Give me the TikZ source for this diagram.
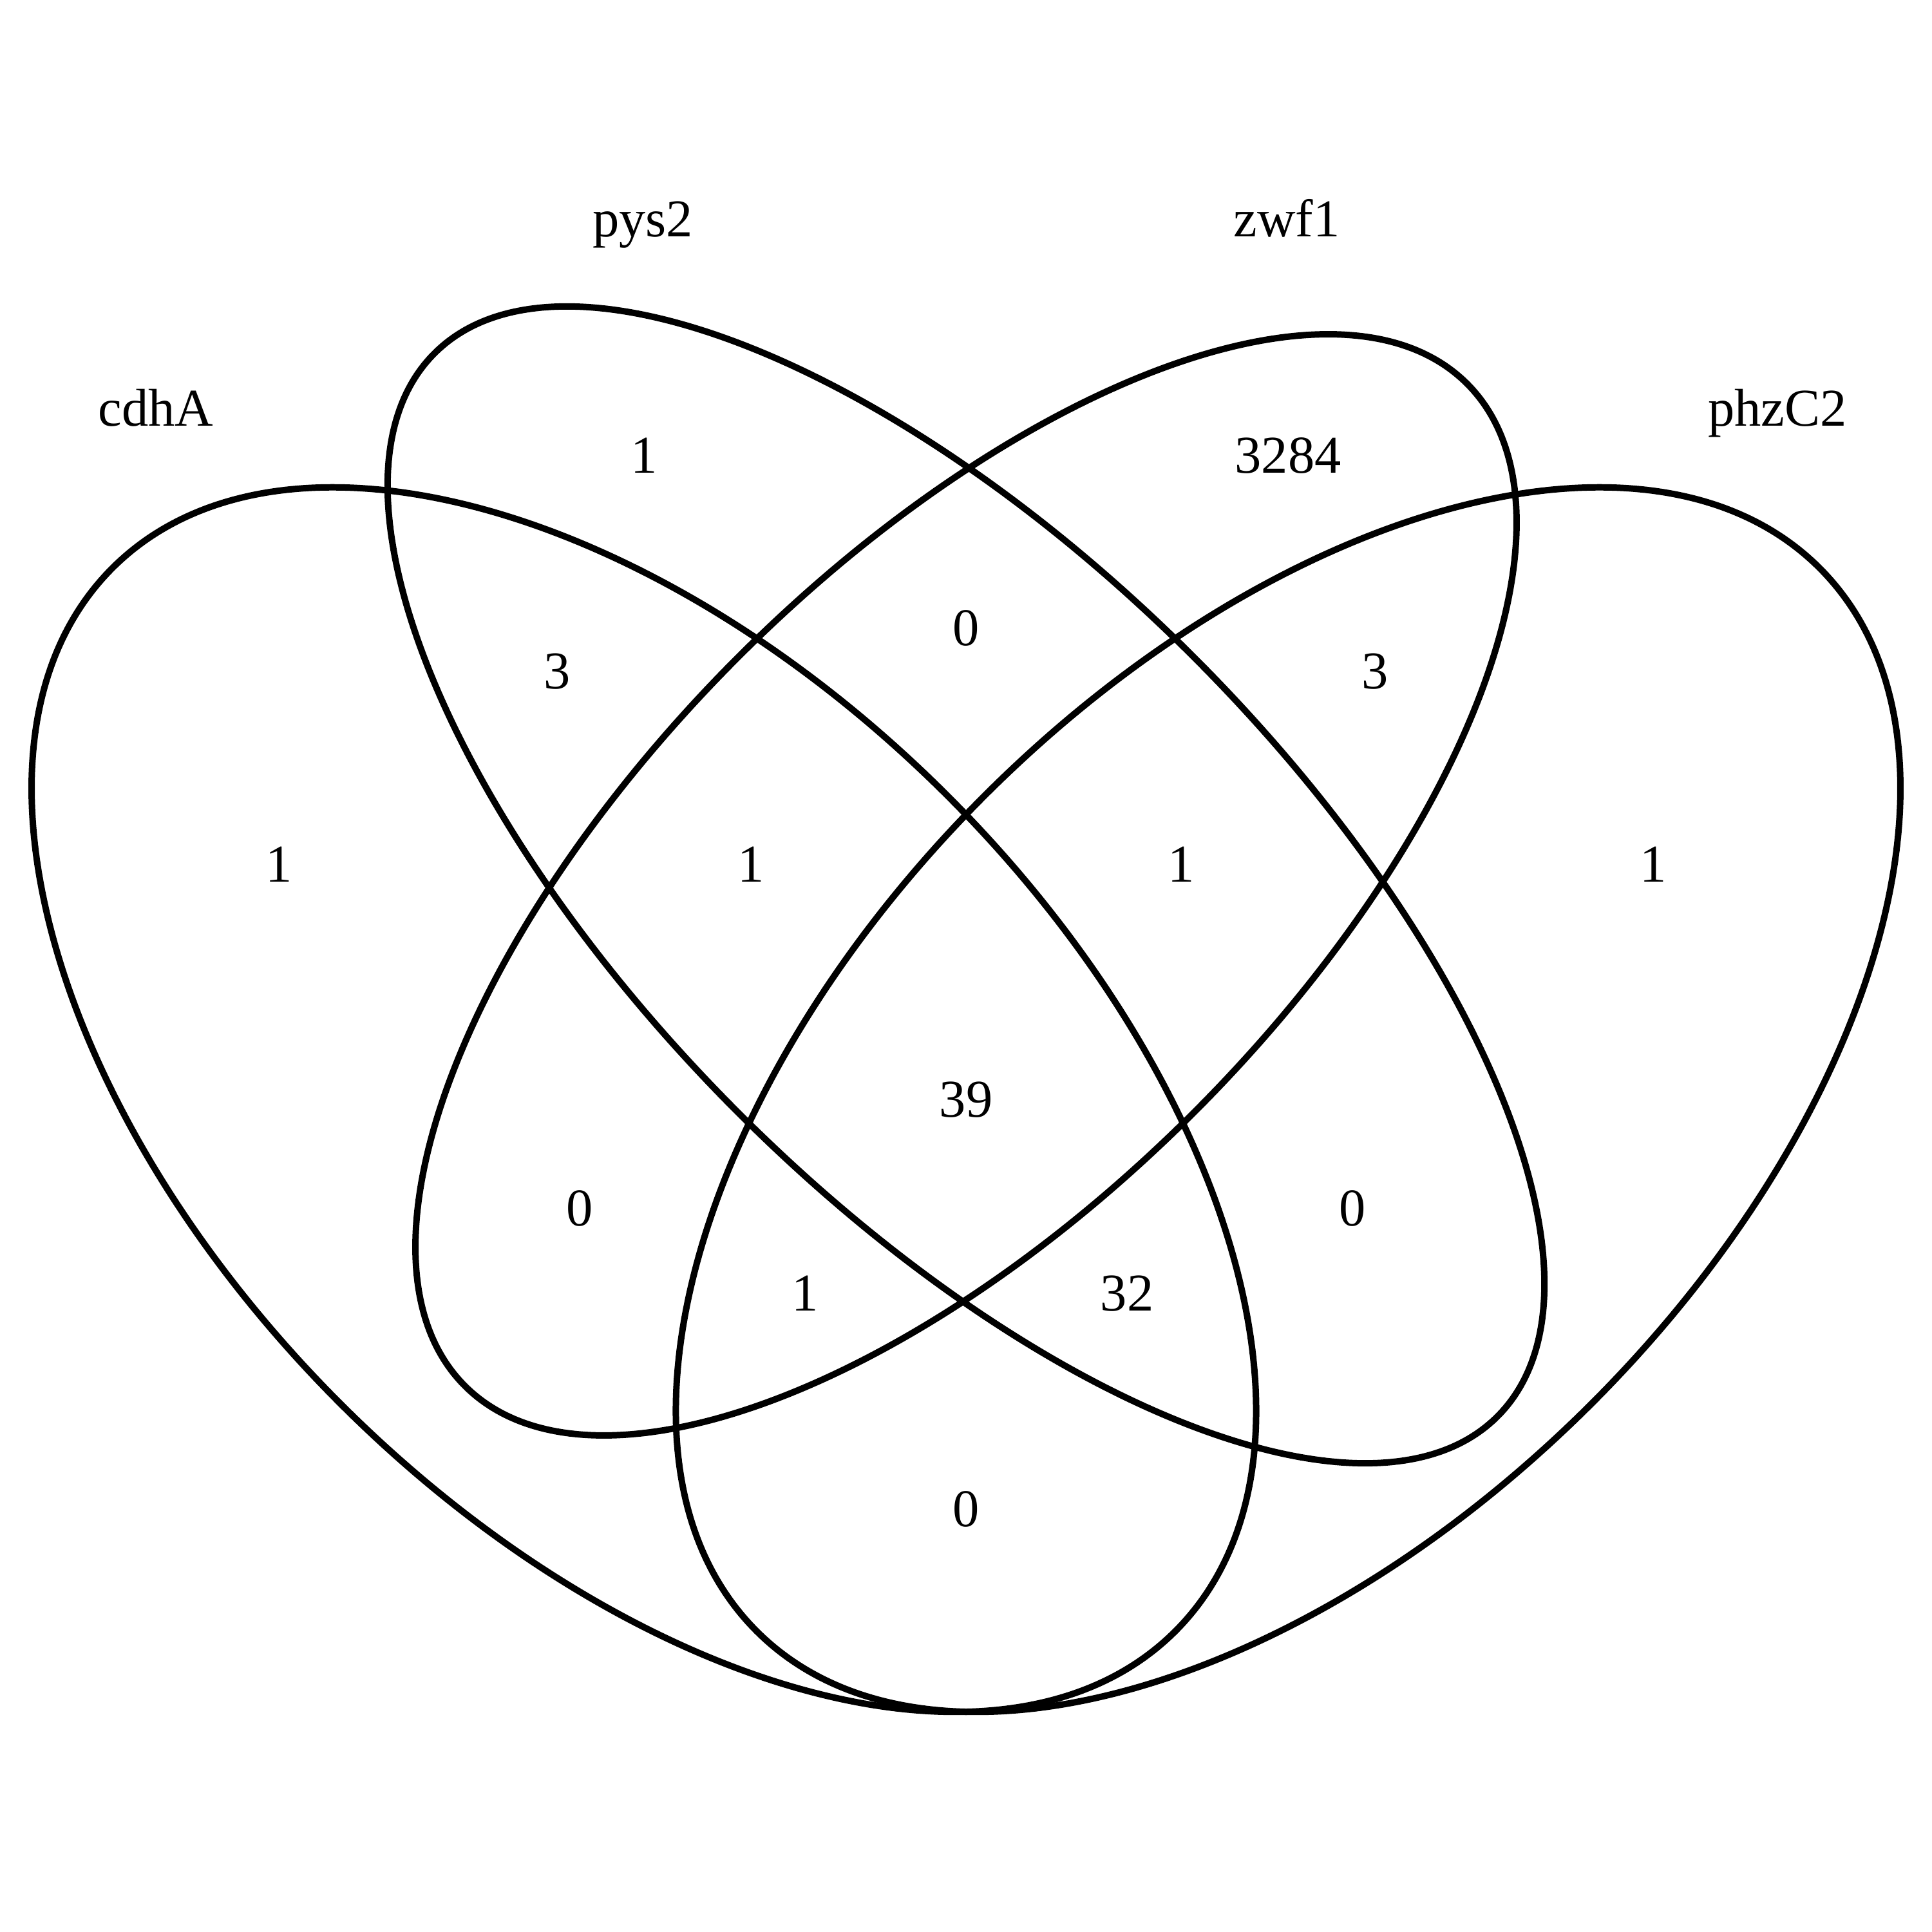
\documentclass[tikz,border=0pt]{standalone}
\usepackage{fontspec}
\setmainfont{Liberation Serif}

\tikzset{
  venn/.style={draw=black, line width=1.42pt},
  lbl/.style={anchor=base, inner sep=0pt, font=\fontsize{11.74pt}{14pt}\selectfont}
}

\begin{document}
\begin{tikzpicture}
    \useasboundingbox (0,0) rectangle (15,15);
    % ellipse centres
    \coordinate (c-cdhA) at (4.999,6.4625);
    \coordinate (c-pys2) at (7.5,8.13);
    \coordinate (c-zwf1) at (7.5,8.13);
    \coordinate (c-phzC2) at (10.001,6.4625);
    \draw[venn, rotate around={-45:(c-cdhA)}] (c-cdhA) ellipse (5.836 and 3.335);
    \draw[venn, rotate around={-45:(c-pys2)}] (c-pys2) ellipse (5.836 and 2.501);
    \draw[venn, rotate around={45:(c-zwf1)}] (c-zwf1) ellipse (5.502 and 2.501);
    \draw[venn, rotate around={45:(c-phzC2)}] (c-phzC2) ellipse (5.836 and 3.335);
    % set names
    \node[lbl] (cdhA) at (1.21,11.69) {cdhA};
    \node[lbl] (pys2) at (4.99,13.16) {pys2};
    \node[lbl] (zwf1) at (9.99,13.16) {zwf1};
    \node[lbl] (phzC2) at (13.8,11.69) {phzC2};
    % counts
    \node[lbl] (n-b) at (5.0,11.325) {1};
    \node[lbl] (n-c) at (10.0,11.325) {3284};
    \node[lbl] (n-a) at (2.165,8.15) {1};
    \node[lbl] (n-d) at (12.835,8.15) {1};
    \node[lbl] (n-ab) at (4.325,9.65) {3};
    \node[lbl] (n-bc) at (7.5,9.985) {0};
    \node[lbl] (n-cd) at (10.675,9.65) {3};
    \node[lbl] (n-abc) at (5.83,8.15) {1};
    \node[lbl] (n-bcd) at (9.17,8.15) {1};
    \node[lbl] (n-abcd) at (7.5,6.3275) {39};
    \node[lbl] (n-ac) at (4.5,5.4825) {0};
    \node[lbl] (n-bd) at (10.5,5.4825) {0};
    \node[lbl] (n-acd) at (6.25,4.82) {1};
    \node[lbl] (n-abd) at (8.75,4.82) {32};
    \node[lbl] (n-ad) at (7.5,3.145) {0};
\end{tikzpicture}
\end{document}
